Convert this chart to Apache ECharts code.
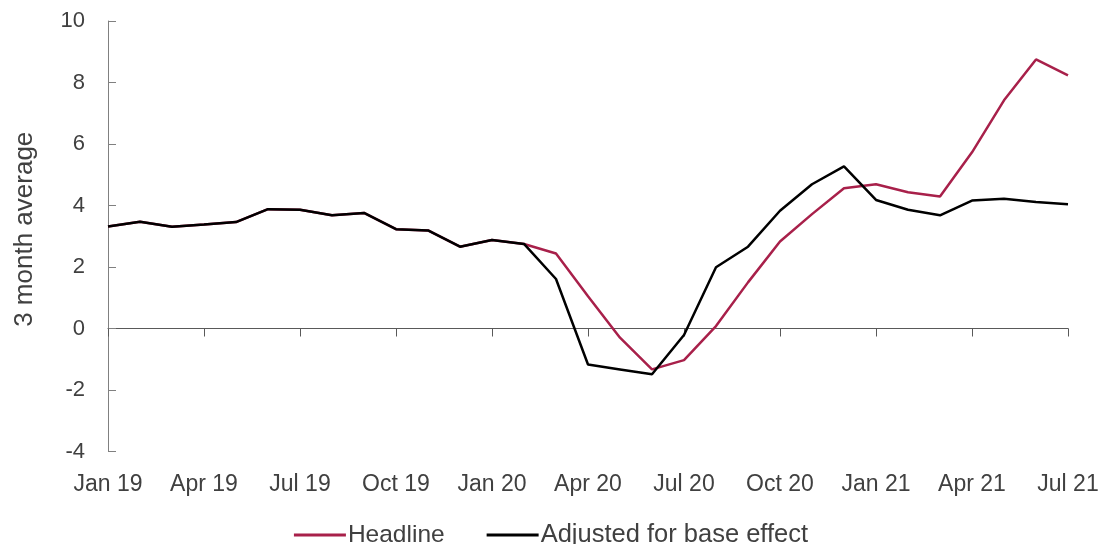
<!DOCTYPE html>
<html>
<head>
<meta charset="utf-8">
<script src="https://cdn.jsdelivr.net/npm/echarts@6/dist/echarts.min.js"></script>
<style>
html,body{margin:0;padding:0;background:#fff;}
#chart{width:1102px;height:544px;}
</style>
</head>
<body>
<div id="chart"></div>
<script>
const months = ["Jan 19","Feb 19","Mar 19","Apr 19","May 19","Jun 19","Jul 19","Aug 19","Sep 19","Oct 19","Nov 19","Dec 19",
  "Jan 20","Feb 20","Mar 20","Apr 20","May 20","Jun 20","Jul 20","Aug 20","Sep 20","Oct 20","Nov 20","Dec 20",
  "Jan 21","Feb 21","Mar 21","Apr 21","May 21","Jun 21","Jul 21"];
const headline = [3.32,3.47,3.31,3.38,3.46,3.88,3.86,3.68,3.76,3.23,3.19,2.66,
  2.88,2.75,2.44,1.05,-0.30,-1.33,-1.03,0.08,1.50,2.83,3.72,4.56,
  4.69,4.43,4.29,5.73,7.42,8.75,8.23];
const adjusted = [3.32,3.47,3.31,3.38,3.46,3.88,3.86,3.68,3.76,3.23,3.19,2.66,
  2.88,2.75,1.61,-1.17,-1.33,-1.49,-0.21,1.99,2.66,3.83,4.69,5.27,
  4.18,3.86,3.68,4.16,4.22,4.11,4.04];
const yMin = -4, yMax = 10, yStep = 2;
const seriesNames = ["Headline","Adjusted for base effect"];
const yTitle = "3 month average";

const FONT = "'Liberation Sans', Arial, sans-serif";
const chart = echarts.init(document.getElementById('chart'), null, {renderer:'canvas'});
chart.setOption({
  animation:false,
  backgroundColor:'#ffffff',
  textStyle:{fontFamily:FONT},
  grid:{left:108,right:34,top:21,bottom:92.5,containLabel:false,outerBoundsMode:'none'},
  legend:{
    data:[{name:seriesNames[0]},{name:seriesNames[1],textStyle:{fontSize:25.5}}],
    top:517,
    left:'center',
    itemWidth:52,
    itemHeight:3,
    itemGap:42,
    icon:'rect',
    textStyle:{fontFamily:FONT,fontSize:24.5,color:'#404040',padding:[0,0,0,-3]}
  },
  xAxis:[
    {type:'category',data:months,boundaryGap:false,position:'bottom',
     axisLine:{show:false,onZero:false},axisTick:{show:false},
     axisLabel:{interval:2,fontSize:23,color:'#404040',margin:22,fontFamily:FONT},
     splitLine:{show:false}},
    {type:'category',data:months,boundaryGap:false,position:'bottom',
     axisLine:{show:true,onZero:true,lineStyle:{color:'#595959',width:1}},
     axisTick:{show:true,interval:2,length:8,lineStyle:{color:'#595959',width:1}},
     axisLabel:{show:false},splitLine:{show:false}}
  ],
  yAxis:{
    type:'value',min:yMin,max:yMax,interval:yStep,
    name:yTitle,nameLocation:'middle',nameRotate:90,nameGap:70,
    nameTextStyle:{fontSize:26,color:'#404040',fontFamily:FONT,padding:[0,0,0,14]},
    axisLine:{show:true,onZero:false,lineStyle:{color:'#808080',width:1}},
    axisTick:{show:true,inside:true,length:8,lineStyle:{color:'#808080',width:1}},
    axisLabel:{fontSize:22,color:'#404040',margin:23,fontFamily:FONT},
    splitLine:{show:false}
  },
  series:[
    {name:seriesNames[0],type:'line',data:headline,symbol:'none',xAxisIndex:0,
     lineStyle:{color:'#A8204A',width:2.5},itemStyle:{color:'#A8204A'},z:2},
    {name:seriesNames[1],type:'line',data:adjusted,symbol:'none',xAxisIndex:0,
     lineStyle:{color:'#000000',width:2.5},itemStyle:{color:'#000000'},z:3}
  ]
});
</script>
</body>
</html>
